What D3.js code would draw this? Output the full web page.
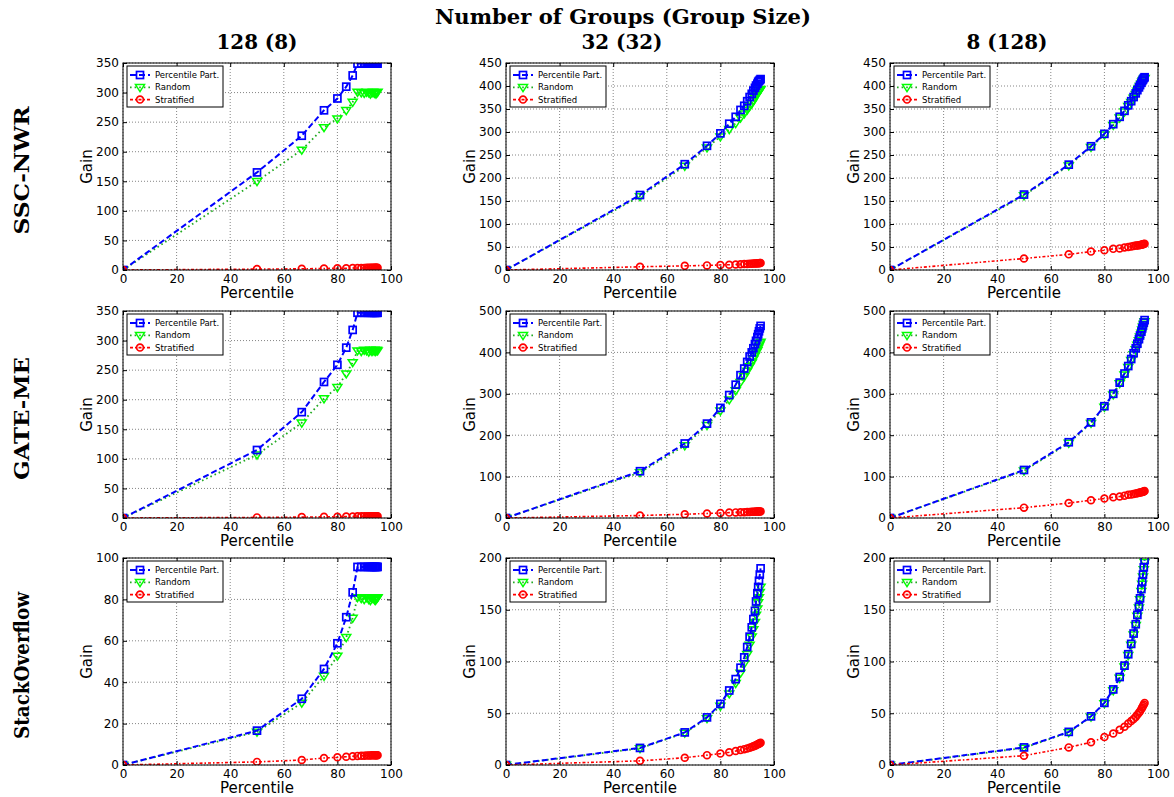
<!DOCTYPE html>
<html>
<head>
<meta charset="utf-8">
<script src="https://cdn.jsdelivr.net/npm/d3@7"></script>
<style>
  body { margin: 0; background: #fff; }
</style>
</head>
<body>
<div class="chart"></div>
<script>
/*
    Data
*/
// percentile cut points shared by all panels
const percentiles = [0, 50, 66.7, 75, 80, 83.3, 85.7, 87.5, 88.9, 90, 90.9, 91.7, 92.3, 92.9, 93.3, 93.8, 94.1, 94.4, 94.7, 95];

const groupLabels = ["128 (8)", "32 (32)", "8 (128)"];
const datasetLabels = ["SSC-NWR", "GATE-ME", "StackOverflow"];
const seriesNames = ["Percentile Part.", "Random", "Stratified"];

const xTicks = [0, 20, 40, 60, 80, 100];
const yTicks350 = [0, 50, 100, 150, 200, 250, 300, 350];
const yTicks450 = [0, 50, 100, 150, 200, 250, 300, 350, 400, 450];
const yTicks500 = [0, 100, 200, 300, 400, 500];
const yTicks100 = [0, 20, 40, 60, 80, 100];
const yTicks200 = [0, 50, 100, 150, 200];

// SSC-NWR
const ssc128Pct = [0, 165, 227, 270, 290, 310, 329, 349, 349, 349, 349, 349, 349, 349, 349, 349, 349, 349, 349, 349];
const ssc128Rnd = [0, 150, 203, 241, 256, 270, 284, 301, 300, 299, 301, 300, 298, 300, 301, 299, 300, 298, 300, 301];
const ssc128Str = [0, 1.5, 2, 2.5, 3, 3, 3.5, 3.5, 3.5, 3.5, 4, 4, 4, 4, 4, 4, 4, 4, 4, 4];
const ssc32Pct = [0, 163, 230, 270, 297, 318, 333, 348, 357, 367, 376, 383, 390, 396, 401, 405, 409, 411, 413, 415];
const ssc32Rnd = [0, 160, 226, 266, 290, 306, 319, 331, 340, 348, 356, 362, 368, 374, 379, 383, 386, 389, 391, 393];
const ssc32Str = [0, 7, 9, 10, 11, 11.5, 12, 12.5, 13, 13, 13.5, 13.5, 14, 14, 14, 14.5, 14.5, 14.5, 15, 15];
const ssc8Pct = [0, 164, 229, 269, 296, 317, 333, 346, 358, 367, 376, 384, 391, 397, 402, 407, 411, 414, 417, 419];
const ssc8Rnd = [0, 162, 227, 267, 294, 315, 331, 344, 356, 365, 374, 382, 389, 395, 400, 405, 409, 412, 415, 417];
const ssc8Str = [0, 25, 34, 40, 43, 46, 47, 49, 50, 51, 52, 53, 53.5, 54, 54.5, 55, 55.5, 56, 56.5, 57];

// GATE-ME
const gate128Pct = [0, 115, 179, 230, 259, 288, 318, 347, 347, 347, 347, 347, 347, 347, 347, 347, 347, 347, 347, 347];
const gate128Rnd = [0, 107, 161, 202, 221, 244, 263, 283, 282, 284, 283, 281, 284, 282, 283, 284, 282, 283, 284, 283];
const gate128Str = [0, 1, 1.5, 2, 2, 2.5, 2.5, 3, 3, 3, 3, 3, 3, 3, 3, 3, 3, 3, 3, 3];
const gate32Pct = [0, 113, 180, 228, 266, 297, 322, 345, 361, 377, 390, 400, 410, 420, 428, 437, 444, 451, 458, 464];
const gate32Rnd = [0, 110, 175, 224, 259, 286, 308, 328, 342, 355, 366, 375, 384, 392, 399, 405, 411, 416, 421, 425];
const gate32Str = [0, 6, 9, 11, 12, 13, 13.5, 14, 14, 14.5, 14.5, 15, 15, 15, 15.5, 15.5, 15.5, 16, 16, 16];
const gate8Pct = [0, 116, 183, 231, 270, 300, 327, 349, 367, 384, 398, 410, 421, 432, 441, 450, 458, 465, 472, 478];
const gate8Rnd = [0, 114, 181, 229, 268, 298, 325, 346, 364, 381, 395, 407, 418, 429, 438, 447, 455, 462, 469, 475];
const gate8Str = [0, 25, 36, 43, 47, 50, 52, 54, 56, 57, 58, 59, 60, 61, 61.5, 62, 63, 63.5, 64, 65];

// StackOverflow
const so128Pct = [0, 16.6, 32, 46.4, 58.8, 71.4, 83.4, 95.7, 95.7, 95.7, 95.7, 95.7, 95.7, 95.7, 95.7, 95.7, 95.7, 95.7, 95.7, 95.7];
const so128Rnd = [0, 16, 30, 43, 52.7, 61.7, 71, 81, 80.5, 80, 81, 80, 79.5, 80.5, 81, 80, 79.5, 80, 80.5, 81];
const so128Str = [0, 1.5, 2.4, 3.4, 3.7, 4, 4.2, 4.4, 4.5, 4.5, 4.6, 4.6, 4.6, 4.7, 4.7, 4.7, 4.7, 4.7, 4.7, 4.7];
const so32Pct = [0, 16.5, 31.5, 46, 59, 72, 83, 94, 104, 114, 124, 133, 141, 149, 158, 166, 172, 178, 184, 190];
const so32Rnd = [0, 16, 31, 45, 57, 69, 79, 89, 98, 107, 116, 124, 131, 138, 145, 151, 157, 162, 167, 172];
const so32Str = [0, 4, 7, 9.5, 11, 12.3, 13.5, 14.5, 15.3, 16, 16.7, 17.3, 18, 18.6, 19.2, 19.7, 20.2, 20.6, 21, 21.4];
const so8Pct = [0, 17, 32, 47, 60, 73, 85, 96, 107, 117, 127, 136, 145, 153, 161, 170, 177, 184, 191, 198];
const so8Rnd = [0, 16.5, 31.5, 46.5, 59.5, 72, 84, 95, 106, 116, 126, 135, 144, 152, 160, 168, 175, 182, 189, 196];
const so8Str = [0, 9, 17, 22, 27, 30.5, 34, 37, 40, 42.5, 44.5, 46.5, 48.5, 50.5, 52, 54, 55.5, 57, 58.5, 60];

const panels = [
    { row: 0, col: 0, yMax: 350, yTicks: yTicks350, pct: ssc128Pct, rnd: ssc128Rnd, str: ssc128Str },
    { row: 0, col: 1, yMax: 450, yTicks: yTicks450, pct: ssc32Pct, rnd: ssc32Rnd, str: ssc32Str },
    { row: 0, col: 2, yMax: 450, yTicks: yTicks450, pct: ssc8Pct, rnd: ssc8Rnd, str: ssc8Str },
    { row: 1, col: 0, yMax: 350, yTicks: yTicks350, pct: gate128Pct, rnd: gate128Rnd, str: gate128Str },
    { row: 1, col: 1, yMax: 500, yTicks: yTicks500, pct: gate32Pct, rnd: gate32Rnd, str: gate32Str },
    { row: 1, col: 2, yMax: 500, yTicks: yTicks500, pct: gate8Pct, rnd: gate8Rnd, str: gate8Str },
    { row: 2, col: 0, yMax: 100, yTicks: yTicks100, pct: so128Pct, rnd: so128Rnd, str: so128Str },
    { row: 2, col: 1, yMax: 200, yTicks: yTicks200, pct: so32Pct, rnd: so32Rnd, str: so32Str },
    { row: 2, col: 2, yMax: 200, yTicks: yTicks200, pct: so8Pct, rnd: so8Rnd, str: so8Str }
];

/*
    Layout
*/
const width = 1174, height = 797;
const colLeft = [123, 506, 890];
const rowTop = [63, 311, 558];
const plotW = 268, plotH = 207;
const sansFont = "'DejaVu Sans', sans-serif";
const serifFont = "'DejaVu Serif', serif";

// line / marker style per series
const styles = {
    pct: { name: seriesNames[0], line: "#0000ff", marker: "#0000ff", dash: "6,3", lw: 2, shape: "square" },
    rnd: { name: seriesNames[1], line: "#22aa22", marker: "#00ff00", dash: "1.6,3", lw: 1.8, shape: "triangle" },
    str: { name: seriesNames[2], line: "#ff0000", marker: "#ff0000", dash: "3,2,1.5,2", lw: 1.6, shape: "circle" }
};

const svg = d3.select(".chart").append("svg")
    .attr("width", width)
    .attr("height", height)
    .style("background", "#fff");

function drawMarker(g, shape, color, cx, cy) {
    if (shape === "square") {
        g.append("rect").attr("x", cx - 3.5).attr("y", cy - 3.5)
            .attr("width", 7).attr("height", 7)
            .attr("fill", "none").attr("stroke", color).attr("stroke-width", 1.7);
    } else if (shape === "triangle") {
        const r = 4.5;
        g.append("path")
            .attr("d", `M${cx - r},${cy - r * 0.6}L${cx + r},${cy - r * 0.6}L${cx},${cy + r * 0.95}Z`)
            .attr("fill", "none").attr("stroke", color).attr("stroke-width", 1.5);
    } else {
        g.append("circle").attr("cx", cx).attr("cy", cy).attr("r", 3.4)
            .attr("fill", "none").attr("stroke", color).attr("stroke-width", 1.7);
    }
}

// fit a text to a target width by scaling its font size
function fitText(sel, target) {
    const w = sel.node().getComputedTextLength();
    const fs = parseFloat(sel.attr("font-size"));
    sel.attr("font-size", fs * target / w);
}

/* Titles */
fitText(svg.append("text")
    .attr("x", 623).attr("y", 24)
    .attr("text-anchor", "middle")
    .attr("font-family", serifFont).attr("font-weight", "bold").attr("font-size", 19)
    .text("Number of Groups (Group Size)"), 376);

const colTitleX = [257, 622, 1007];
groupLabels.forEach((t, i) => {
    fitText(svg.append("text")
        .attr("x", colTitleX[i]).attr("y", 49)
        .attr("text-anchor", "middle")
        .attr("font-family", serifFont).attr("font-weight", "bold").attr("font-size", 20)
        .text(t), 81);
});

// same type size for all row labels, squeezed to the reference length
const rowLabelLen = [128, 123, 147];
datasetLabels.forEach((t, i) => {
    const cy = rowTop[i] + plotH / 2 + 4;
    svg.append("text")
        .attr("transform", `translate(29,${cy}) rotate(-90)`)
        .attr("text-anchor", "middle")
        .attr("font-family", serifFont).attr("font-weight", "bold").attr("font-size", 21)
        .attr("textLength", rowLabelLen[i])
        .attr("lengthAdjust", "spacingAndGlyphs")
        .text(t);
});

/* Panels */
panels.forEach((p, idx) => {
    const left = colLeft[p.col], top = rowTop[p.row];

    const xScale = d3.scaleLinear().domain([0, 100]).range([0, plotW]);
    const yScale = d3.scaleLinear().domain([0, p.yMax]).range([plotH, 0]);

    const g = svg.append("g").attr("transform", `translate(${left},${top})`);

    const clipId = "clip" + idx;
    g.append("clipPath").attr("id", clipId)
        .append("rect").attr("width", plotW).attr("height", plotH);

    // grid
    const grid = g.append("g").attr("stroke", "#000").attr("stroke-width", 0.6)
        .attr("stroke-dasharray", "1,2").attr("opacity", 0.8);
    xTicks.forEach(t => {
        grid.append("line").attr("x1", xScale(t)).attr("x2", xScale(t))
            .attr("y1", 0).attr("y2", plotH);
    });
    p.yTicks.forEach(t => {
        grid.append("line").attr("x1", 0).attr("x2", plotW)
            .attr("y1", yScale(t)).attr("y2", yScale(t));
    });

    // series
    const plot = g.append("g").attr("clip-path", `url(#${clipId})`);
    const line = d3.line().x((d, i) => xScale(percentiles[i])).y(d => yScale(d));
    ["rnd", "pct", "str"].forEach(key => {
        const s = styles[key];
        const vals = p[key];
        plot.append("path").datum(vals)
            .attr("d", line)
            .attr("fill", "none")
            .attr("stroke", s.line)
            .attr("stroke-width", s.lw)
            .attr("stroke-dasharray", s.dash);
        const mg = plot.append("g");
        vals.forEach((v, i) => drawMarker(mg, s.shape, s.marker, xScale(percentiles[i]), yScale(v)));
    });

    // axes: ticks inward on all four sides
    const xAxis = d3.axisBottom(xScale).tickValues(xTicks).tickSize(-4).tickFormat(d3.format("d"));
    const yAxis = d3.axisLeft(yScale).tickValues(p.yTicks).tickSize(-4).tickFormat(d3.format("d"));
    const xa = g.append("g").attr("transform", `translate(0,${plotH})`).call(xAxis);
    const ya = g.append("g").call(yAxis);
    g.append("g").call(d3.axisTop(xScale).tickValues(xTicks).tickSize(-4).tickFormat(""));
    g.append("g").attr("transform", `translate(${plotW},0)`)
        .call(d3.axisRight(yScale).tickValues(p.yTicks).tickSize(-4).tickFormat(""));
    g.selectAll(".domain").remove();
    g.selectAll(".tick line").attr("stroke", "#000").attr("stroke-width", 1);
    [xa, ya].forEach(a => a.selectAll("text")
        .attr("font-family", sansFont).attr("font-size", 12).attr("fill", "#000"));
    xa.selectAll("text").attr("dy", null).attr("y", 13);
    ya.selectAll("text").attr("x", -4);

    g.append("rect").attr("width", plotW).attr("height", plotH)
        .attr("fill", "none").attr("stroke", "#000").attr("stroke-width", 1);

    // axis labels
    g.append("text")
        .attr("x", plotW / 2).attr("y", plotH + 28)
        .attr("text-anchor", "middle")
        .attr("font-family", sansFont).attr("font-size", 15)
        .text("Percentile");
    g.append("text")
        .attr("transform", `translate(-31,${plotH / 2}) rotate(-90)`)
        .attr("text-anchor", "middle")
        .attr("font-family", sansFont).attr("font-size", 15)
        .text("Gain");

    // legend
    const lg = g.append("g").attr("transform", "translate(4,3)");
    lg.append("rect").attr("width", 96).attr("height", 41)
        .attr("fill", "#fff").attr("stroke", "#000").attr("stroke-width", 1);
    ["pct", "rnd", "str"].forEach((key, i) => {
        const s = styles[key];
        const cy = 9 + i * 12.3;
        lg.append("line").attr("x1", 3).attr("x2", 23).attr("y1", cy).attr("y2", cy)
            .attr("stroke", s.line).attr("stroke-width", s.lw).attr("stroke-dasharray", s.dash);
        drawMarker(lg, s.shape, s.marker, 13, cy);
        lg.append("text").attr("x", 28).attr("y", cy + 3)
            .attr("font-family", sansFont).attr("font-size", 8.5)
            .text(s.name);
    });
});
</script>
</body>
</html>
